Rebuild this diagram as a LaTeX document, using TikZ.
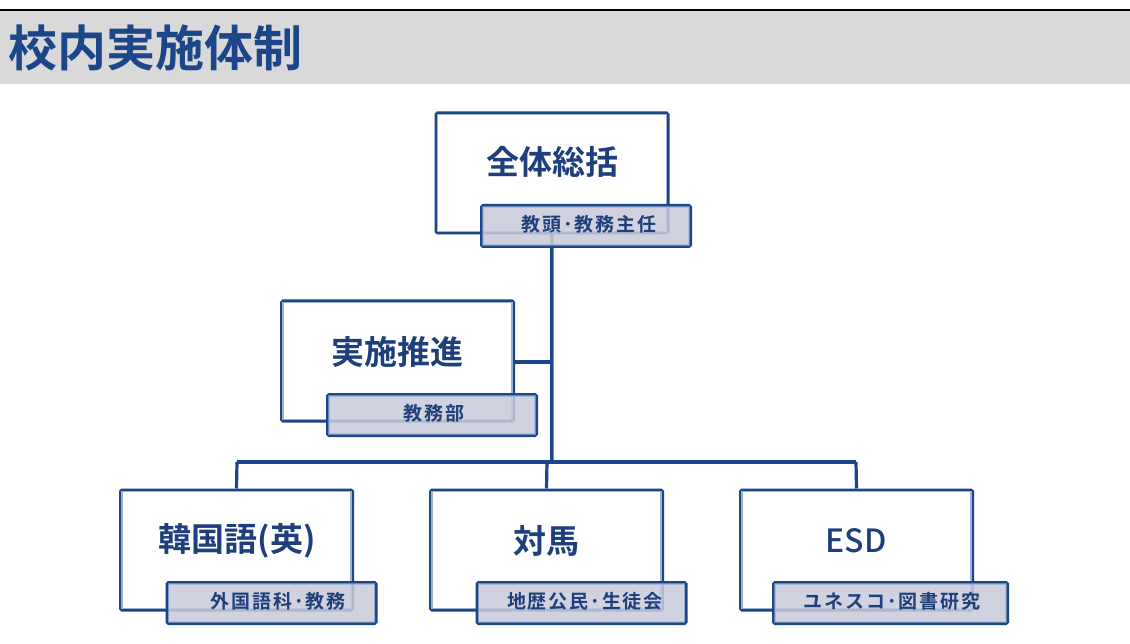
\documentclass[tikz,border=0pt]{standalone}
\usepackage{fontspec}
\newfontfamily\jpb{Noto Sans CJK JP Bold}
\newfontfamily\jpbs[LetterSpace=10]{Noto Sans CJK JP Bold}
\newfontfamily\jpm{Noto Sans CJK JP Medium}
\definecolor{dblue}{HTML}{1C468A}
\definecolor{tblue}{HTML}{1E3F7C}
\definecolor{lblue}{HTML}{9FB1D0}
\definecolor{subfill}{HTML}{C8CCDA}
\definecolor{band}{HTML}{D9D9D9}
\begin{document}
\begin{tikzpicture}[x=1pt,y=-1pt,
  mainbox/.style={draw=dblue, line width=3pt, fill=white, rectangle, inner sep=0pt,
    minimum width=232pt, minimum height=120pt, rounded corners=1.5pt},
  subbox/.style={draw=dblue, line width=3pt, fill=subfill, fill opacity=0.85, draw opacity=1, rectangle, inner sep=0pt,
    minimum width=209pt, minimum height=41pt, rounded corners=1.5pt},
  mainlabel/.style={text=tblue, font=\jpb\fontsize{33}{33}\selectfont, inner sep=0pt},
  sublabel/.style={text=tblue, font=\jpbs\fontsize{19}{19}\selectfont, inner sep=0pt},
  conn/.style={draw=dblue, line width=3.2pt},
  connlight/.style={draw=lblue, line width=1.3pt}
]
\useasboundingbox (0,0) rectangle (1130,644);
\fill[white] (0,0) rectangle (1130,644);
% title band
\fill[band] (0,11) rectangle (1130,84);
\draw[black, line width=1.6pt] (0,10) -- (1130,10);
\node[anchor=west, text=dblue, font=\jpb\fontsize{49}{49}\selectfont, inner sep=0pt] (title) at (8,48) {校内実施体制};

% coordinates for connectors
\coordinate (top) at (552,234);
\coordinate (jj) at (552,362);
\coordinate (jl) at (514,362);
\coordinate (busM) at (552,462);
\coordinate (busL) at (237,462);
\coordinate (busC) at (547,462);
\coordinate (busR) at (856,462);

% connectors
\draw[conn] (top) -- (busM);
\draw[conn] (jl) -- (jj);
\draw[conn] (busL) -- (busR);
\draw[connlight, opacity=0.7] (553.6,234) -- (553.6,460);

% top
\node[mainbox] (b1) at (552,173) {};
\draw[connlight] ([shift={(3pt,-3pt)}]b1.north west) rectangle ([shift={(-3pt,3pt)}]b1.south east);
\node[mainlabel] (t1) at (552,162) {全体総括};
\node[subbox] (s1) at (586,226) {};
\draw[connlight, opacity=0.6] ([shift={(3pt,-3pt)}]s1.north west) rectangle ([shift={(-3pt,3pt)}]s1.south east);
\node[sublabel] (u1) at (589,224) {教頭･教務主任};

% middle
\node[mainbox] (b2) at (397.5,361) {};
\draw[connlight] ([shift={(3pt,-3pt)}]b2.north west) rectangle ([shift={(-3pt,3pt)}]b2.south east);
\node[mainlabel] (t2) at (397.5,352) {実施推進};
\node[subbox] (s2) at (432,415) {};
\draw[connlight, opacity=0.6] ([shift={(3pt,-3pt)}]s2.north west) rectangle ([shift={(-3pt,3pt)}]s2.south east);
\node[sublabel] (u2) at (434,413) {教務部};

% bottom boxes
\node[mainbox] (b3) at (236.5,550) {};
\node[mainbox] (b4) at (546.5,550) {};
\node[mainbox] (b5) at (856.5,550) {};
\draw[conn] (busL) -- (b3.north);
\draw[conn] (busC) -- (b4.north);
\draw[conn] (busR) -- (b5.north);
\foreach \b in {b3,b4,b5}{
  \draw[connlight] ([shift={(3pt,-3pt)}]\b.north west) rectangle ([shift={(-3pt,3pt)}]\b.south east);
}
\node[mainlabel] (t3) at (237,541) {韓国語(英)};
\node[mainlabel] (t4) at (546,541) {対馬};
\node[mainlabel, font=\jpm\fontsize{32}{32}\selectfont] (t5) at (856,541) {ESD};

\node[subbox] (s3) at (271.5,603) {};
\node[subbox] (s4) at (581.5,603) {};
\node[subbox, minimum width=234pt] (s5) at (890.5,603) {};
\foreach \s in {s3,s4,s5}{
  \draw[connlight, opacity=0.6] ([shift={(3pt,-3pt)}]\s.north west) rectangle ([shift={(-3pt,3pt)}]\s.south east);
}
\node[sublabel] (u3) at (278,601) {外国語科･教務};
\node[sublabel] (u4) at (585,601) {地歴公民･生徒会};
\node[sublabel] (u5) at (892,601) {ユネスコ･図書研究};
\end{tikzpicture}
\end{document}
